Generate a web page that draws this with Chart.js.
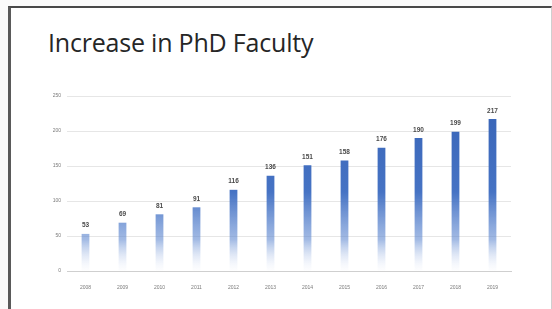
<!DOCTYPE html>
<html>
<head>
<meta charset="utf-8">
<script src="https://cdn.jsdelivr.net/npm/chart.js@4"></script>
<style>
  html, body { margin: 0; padding: 0; background: #fbfbfb; width: 552px; height: 309px; overflow: hidden; }
  #frame { position: absolute; left: 8px; top: 6px; width: 540px; height: 320px; background: #fff;
           border-left: 3px solid #5a5a5a; border-top: 2px solid #4a4a4a; border-right: 1px solid #cfcfcf; }
  #title { position: absolute; left: 48px; top: 25px; font-family: "Open Sans", "Liberation Sans", sans-serif;
           font-size: 25px; color: #262626; letter-spacing: -0.2px; }
  #c { position: absolute; left: 0; top: 0; }
</style>
</head>
<body>
<div id="frame"></div>
<div id="title">Increase in PhD Faculty</div>
<canvas id="c" width="552" height="309"></canvas>
<script>
const categories = ["2008","2009","2010","2011","2012","2013","2014","2015","2016","2017","2018","2019"];
const facultyCounts = [53, 69, 81, 91, 116, 136, 151, 158, 176, 190, 199, 217];
const yTicks = [0, 50, 100, 150, 200, 250];

const valueLabels = {
  id: 'valueLabels',
  afterDatasetsDraw(chart) {
    const ctx = chart.ctx;
    const meta = chart.getDatasetMeta(0);
    ctx.save();
    ctx.font = 'bold 6.5px "Liberation Sans", sans-serif';
    ctx.fillStyle = '#4a4a4a';
    ctx.textAlign = 'center';
    ctx.textBaseline = 'bottom';
    meta.data.forEach((bar, i) => {
      ctx.fillText(String(chart.data.datasets[0].data[i]), bar.x, bar.y - 5);
    });
    ctx.restore();
  }
};

new Chart(document.getElementById('c'), {
  type: 'bar',
  data: {
    labels: categories,
    datasets: [{
      data: facultyCounts,
      backgroundColor(context) {
        const area = context.chart.chartArea;
        if (!area) return '#4472c4';
        const g = context.chart.ctx.createLinearGradient(0, area.top, 0, area.bottom);
        g.addColorStop(0, '#3763b6');
        g.addColorStop(0.55, '#4673c4');
        g.addColorStop(0.82, 'rgba(100,140,210,0.6)');
        g.addColorStop(1, 'rgba(220,228,245,0.05)');
        return g;
      },
      borderWidth: 0,
      barPercentage: 0.21,
      categoryPercentage: 1.0
    }]
  },
  options: {
    responsive: false,
    animation: false,
    events: [],
    layout: { padding: { left: 0, right: 41, top: 96, bottom: 0 } },
    plugins: { legend: { display: false }, title: { display: false }, tooltip: { enabled: false } },
    scales: {
      x: {
        grid: { display: false },
        border: { display: true, color: '#cfcfcf', width: 1 },
        ticks: { color: '#7a7a7a', font: { size: 5, family: '"Liberation Sans", sans-serif' }, padding: 6, maxRotation: 0 },
        afterFit(scale) { scale.height = 38; }
      },
      y: {
        min: 0, max: 250,
        afterBuildTicks(scale) { scale.ticks = yTicks.map(v => ({ value: v })); },
        grid: { color: '#e6e6e6', lineWidth: 1, drawTicks: false },
        border: { display: false },
        ticks: { color: '#7a7a7a', font: { size: 5, family: '"Liberation Sans", sans-serif' }, padding: 6 },
        afterFit(scale) { scale.width = 67; }
      }
    }
  },
  plugins: [valueLabels]
});
</script>
</body>
</html>
